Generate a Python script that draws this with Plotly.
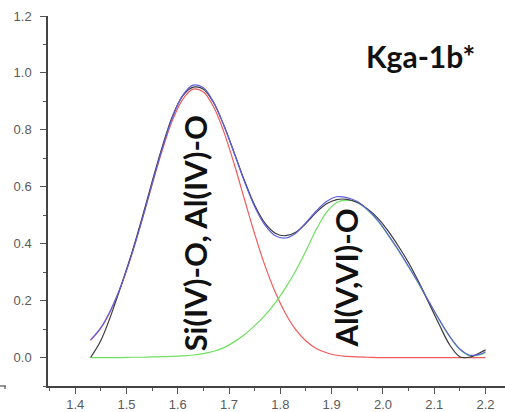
import plotly.graph_objects as go

# x positions (Å)
x_vals = [1.43, 1.45, 1.47, 1.49, 1.51, 1.53, 1.55, 1.57, 1.59, 1.61,
          1.63, 1.65, 1.67, 1.69, 1.71, 1.73, 1.75, 1.77, 1.79, 1.81,
          1.83, 1.85, 1.87, 1.89, 1.91, 1.93, 1.95, 1.97, 1.99, 2.01,
          2.03, 2.05, 2.07, 2.09, 2.11, 2.13, 2.15, 2.17, 2.19, 2.20]

# measured (black)
measured = [0.000, 0.060, 0.150, 0.255, 0.365, 0.488, 0.618, 0.742, 0.850, 0.920,
            0.950, 0.943, 0.895, 0.815, 0.720, 0.622, 0.535, 0.472, 0.437, 0.428,
            0.440, 0.472, 0.510, 0.540, 0.555, 0.556, 0.545, 0.522, 0.490, 0.445,
            0.392, 0.333, 0.265, 0.190, 0.115, 0.045, 0.003, 0.002, 0.018, 0.027]

# cumulative fit (blue)
fit_sum = [0.062, 0.105, 0.170, 0.255, 0.360, 0.480, 0.610, 0.735, 0.845, 0.922,
           0.957, 0.948, 0.897, 0.815, 0.718, 0.618, 0.530, 0.465, 0.428, 0.420,
           0.437, 0.474, 0.515, 0.548, 0.565, 0.562, 0.548, 0.520, 0.482, 0.432,
           0.378, 0.320, 0.260, 0.196, 0.133, 0.075, 0.030, 0.008, 0.012, 0.020]

# Si(IV)-O, Al(IV)-O component (red)
peak1 = [0.060, 0.103, 0.168, 0.255, 0.362, 0.482, 0.608, 0.730, 0.835, 0.908,
         0.943, 0.933, 0.880, 0.792, 0.680, 0.556, 0.434, 0.323, 0.230, 0.155,
         0.098, 0.058, 0.032, 0.017, 0.008, 0.004, 0.002, 0.001, 0.000, 0.000,
         0.000, 0.000, 0.000, 0.000, 0.000, 0.000, 0.000, 0.000, 0.000, 0.000]

# Al(V,VI)-O component (green)
peak2 = [0.000, 0.000, 0.000, 0.000, 0.001, 0.001, 0.002, 0.003, 0.004, 0.006,
         0.009, 0.014, 0.022, 0.035, 0.055, 0.080, 0.112, 0.148, 0.192, 0.245,
         0.305, 0.375, 0.450, 0.510, 0.545, 0.553, 0.545, 0.518, 0.480, 0.430,
         0.376, 0.318, 0.258, 0.194, 0.131, 0.073, 0.028, 0.006, 0.010, 0.018]

x_ticks = [1.4, 1.5, 1.6, 1.7, 1.8, 1.9, 2.0, 2.1, 2.2]
y_ticks = [0.0, 0.2, 0.4, 0.6, 0.8, 1.0, 1.2]

title_text = "Kga-1b*"
label1 = "Si(IV)-O, Al(IV)-O"
label2 = "Al(V,VI)-O"

fig = go.Figure()
fig.add_trace(go.Scatter(x=x_vals, y=peak1, mode="lines", line=dict(color="#f05a5a", width=1.2, shape="spline")))
fig.add_trace(go.Scatter(x=x_vals, y=peak2, mode="lines", line=dict(color="#6ee060", width=1.2, shape="spline")))
fig.add_trace(go.Scatter(x=x_vals, y=measured, mode="lines", line=dict(color="#3a3a3a", width=1.2, shape="spline")))
fig.add_trace(go.Scatter(x=x_vals, y=fit_sum, mode="lines", line=dict(color="#5f5fe0", width=1.2, shape="spline")))

axis_font = dict(family="Liberation Sans, Arial", size=13, color="#5a5a5a")

fig.update_xaxes(range=[1.347, 2.238], tickvals=x_ticks, ticktext=[f"{v:.1f}" for v in x_ticks],
                 showline=True, linecolor="#444", linewidth=1.5, ticks="outside", ticklen=6,
                 tickwidth=1.2, tickcolor="#555", showgrid=False, zeroline=False, tickfont=axis_font,
                 minor=dict(dtick=0.05, tick0=1.35, ticks="outside", ticklen=3, tickcolor="#555", tickwidth=1.2, showgrid=False))
fig.update_yaxes(range=[-0.1, 1.2], tickvals=y_ticks, ticktext=[f"{v:.1f}" for v in y_ticks],
                 showline=True, linecolor="#444", linewidth=1.5, ticks="outside", ticklen=6,
                 tickwidth=1.2, tickcolor="#555", showgrid=False, zeroline=False, tickfont=axis_font,
                 ticklabelstandoff=6,
                 minor=dict(dtick=0.1, tick0=0.1, ticks="outside", ticklen=3, tickcolor="#555", tickwidth=1.2, showgrid=False))

lbl_font = dict(family="Lato", size=31, color="#111")
fig.add_annotation(x=2.0725, y=1.058, xref="x", yref="y", text=f"<b>{title_text}</b>", showarrow=False,
                   font=dict(family="Lato", size=30, color="#111"), xanchor="center", yanchor="middle")
fig.add_annotation(x=1.634, y=0.437, xref="x", yref="y", text=f"<b>{label1}</b>", showarrow=False,
                   textangle=-90, font=lbl_font, xanchor="center", yanchor="middle")
fig.add_annotation(x=1.928, y=0.278, xref="x", yref="y", text=f"<b>{label2}</b>", showarrow=False,
                   textangle=-90, font=lbl_font, xanchor="center", yanchor="middle")

# small stray axis fragment at bottom-left
fig.add_shape(type="line", xref="paper", yref="paper", x0=-48/457, x1=-42/457, y0=0, y1=0,
              line=dict(color="#555", width=1.2))
fig.add_shape(type="line", xref="paper", yref="paper", x0=-43/457, x1=-43/457, y0=0, y1=-3/370,
              line=dict(color="#555", width=1.2))

fig.update_layout(width=505, height=412, margin=dict(l=48, r=0, t=16, b=26),
                  plot_bgcolor="white", paper_bgcolor="white", showlegend=False)

fig.write_html("out.html")
